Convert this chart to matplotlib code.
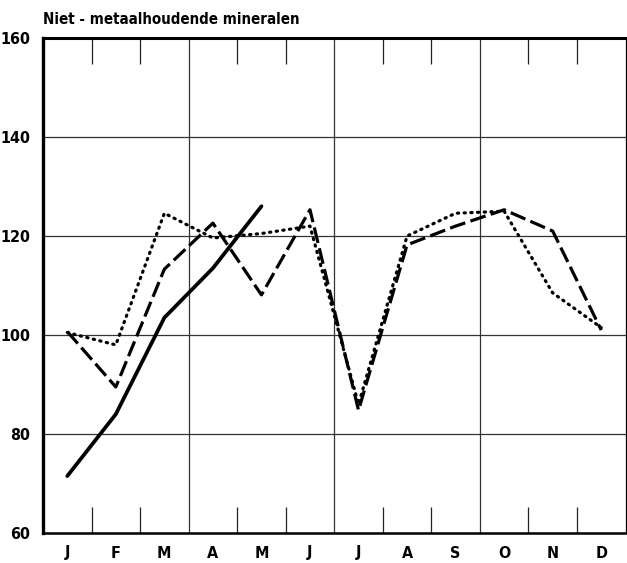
import matplotlib
matplotlib.use("Agg")
import matplotlib.pyplot as plt
import numpy as np

months = ["J", "F", "M", "A", "M", "J", "J", "A", "S", "O", "N", "D"]
solid_vals = [71.5, 84, 103.5, 113.5, 126]
dashed_vals = [100.7, 89.5, 113.3, 122.6, 108.1, 125.3, 84.8, 118.2, 122, 125.3, 121, 101]
dotted_vals = [100.5, 98, 124.6, 119.6, 120.5, 122, 86, 120, 124.6, 125, 108.5, 101.5]
yticks = [60, 80, 100, 120, 140, 160]

plt.rcParams['font.family'] = ['DejaVu Sans']
plt.rcParams['font.stretch'] = 'condensed'
plt.rcParams['font.weight'] = 'bold'

fig = plt.figure(figsize=(6.27, 5.63), dpi=100)
ax = fig.add_axes([43/627, 30/563, 582.5/627, 495/563])

x = np.arange(12) + 0.5
ax.plot(x[:len(solid_vals)], solid_vals, color='black', lw=2.7, solid_capstyle='round',
        solid_joinstyle='round', zorder=5)
ax.plot(x, dashed_vals, color='black', lw=2.3, dashes=(5, 1.7), zorder=5)
ax.plot(x, dotted_vals, color='black', lw=2.3, dashes=(0.4, 1.7), dash_capstyle='round', zorder=5)

for yv in [80, 100, 120, 140]:
    ax.axhline(yv, color='#333333', lw=0.9, zorder=1)
for xv in [3, 6, 9]:
    ax.axvline(xv, color='#333333', lw=0.9, zorder=1)

ax.set_xlim(0, 12)
ax.set_ylim(60, 160)
ax.set_xticks(x)
ax.set_xticklabels(months, fontsize=11.5, fontweight='bold')
ax.set_xticks([1, 2, 4, 5, 7, 8, 10, 11], minor=True)
ax.tick_params(axis='x', which='major', length=0, pad=9)
ax.tick_params(axis='x', which='minor', direction='in', length=19, width=0.9,
               top=True, bottom=True, color='#222222')
ax.set_yticks(yticks)
ax.set_yticklabels([str(v) for v in yticks], fontsize=11.5, fontweight='bold')
ax.tick_params(axis='y', length=0, pad=9)

ax.spines['left'].set_linewidth(2.4)
ax.spines['top'].set_linewidth(2.2)
ax.spines['bottom'].set_linewidth(1.8)
ax.spines['right'].set_linewidth(0.9)

fig.text(43/627, 1 - 19/563, "Niet - metaalhoudende mineralen", fontsize=10.8, fontweight='bold',
         ha='left', va='center')

fig.savefig("out.png", dpi=100)
